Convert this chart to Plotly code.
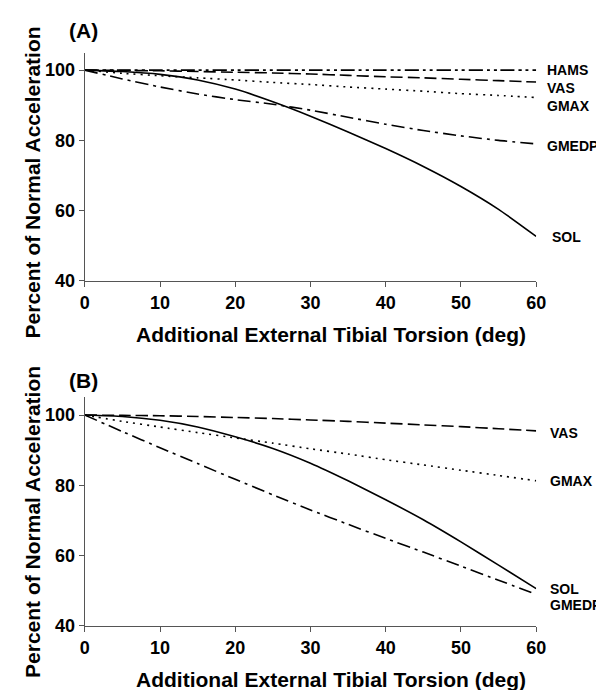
import plotly.graph_objects as go

# ---------------- data ----------------
torsion = [0, 5, 10, 15, 20, 25, 30, 35, 40, 45, 50, 55, 60]

# Panel (A)
a_hams = [100, 100, 100, 100, 100, 100, 100, 100, 100, 100, 100, 100, 100]
a_vas = [100, 99.9, 99.8, 99.6, 99.4, 99.2, 98.9, 98.5, 98.1, 97.8, 97.4, 97.0, 96.6]
a_gmax = [100, 99.1, 98.4, 97.8, 97.2, 96.5, 95.9, 95.2, 94.6, 94.0, 93.3, 92.8, 92.2]
a_gmedp = [100, 97.5, 95.2, 93.2, 91.6, 90.3, 88.6, 86.6, 84.6, 82.8, 81.3, 80.0, 79.0]
a_sol = [100, 99.6, 98.8, 97.2, 94.6, 91.0, 86.9, 82.4, 77.7, 72.6, 66.9, 60.4, 52.7]

# Panel (B)
b_vas = [100, 99.9, 99.8, 99.6, 99.3, 99.0, 98.6, 98.2, 97.7, 97.2, 96.7, 96.1, 95.5]
b_gmax = [100, 98.2, 96.6, 95.0, 93.5, 92.0, 90.4, 88.9, 87.3, 85.8, 84.3, 82.8, 81.3]
b_gmedp = [100, 95.3, 90.7, 86.2, 81.7, 77.3, 73.0, 68.9, 64.9, 61.0, 57.0, 53.0, 49.0]
b_sol = [100, 99.6, 98.5, 96.6, 93.8, 90.5, 86.3, 81.3, 75.9, 70.2, 63.9, 57.3, 50.6]

x_ticks = [0, 10, 20, 30, 40, 50, 60]
y_ticks = [40, 60, 80, 100]
x_title = "Additional External Tibial Torsion (deg)"
y_title = "Percent of Normal Acceleration"

panel_a = [("HAMS", a_hams), ("VAS", a_vas), ("GMAX", a_gmax), ("GMEDP", a_gmedp), ("SOL", a_sol)]
panel_b = [("VAS", b_vas), ("GMAX", b_gmax), ("SOL", b_sol), ("GMEDP", b_gmedp)]

# ---------------- styles ----------------
dash_style = {
    "HAMS": "14px,4px,3px,4px,3px,4px",
    "VAS": "12px,5px",
    "GMAX": "2px,5px",
    "GMEDP": "13px,5px,3px,5px",
    "SOL": "solid",
}
# label offsets (px) relative to series end value: (xshift, yshift)
label_shift_a = {"HAMS": (9, 0), "VAS": (9, -6), "GMAX": (9, -8), "GMEDP": (9, -2), "SOL": (14, -1)}
label_shift_b = {"VAS": (12, -2), "GMAX": (12, 0), "SOL": (12, 0), "GMEDP": (12, -11)}

FONT = "Arial, Liberation Sans, sans-serif"
W, H = 604, 690

fig = go.Figure()

for name, vals in panel_a:
    fig.add_trace(go.Scatter(x=torsion, y=vals, mode="lines", name=name,
                             line=dict(color="black", width=1.6, dash=dash_style[name], shape="spline", smoothing=0.5),
                             xaxis="x", yaxis="y", showlegend=False))
for name, vals in panel_b:
    fig.add_trace(go.Scatter(x=torsion, y=vals, mode="lines", name=name,
                             line=dict(color="black", width=1.6, dash=dash_style[name], shape="spline", smoothing=0.5),
                             xaxis="x2", yaxis="y2", showlegend=False))

axis_common = dict(showline=True, linecolor="#555555", linewidth=1.2, ticks="outside", ticklen=5,
                   tickcolor="#555555", tickwidth=1.2, showgrid=False, zeroline=False,
                   tickfont=dict(family=FONT, size=18, color="black", weight="bold"))

xdom = [73.6 / W, 536.5 / W]
ya_dom = [1 - 277 / H, 1 - 45.2 / H]
yb_dom = [1 - 627 / H, 1 - 395.2 / H]

fig.update_layout(
    width=W, height=H, margin=dict(l=0, r=0, t=0, b=0),
    paper_bgcolor="white", plot_bgcolor="white",
    xaxis=dict(domain=xdom, range=[0, 60], tickvals=x_ticks, anchor="y", **axis_common),
    yaxis=dict(domain=ya_dom, range=[40, 105], tickvals=y_ticks, anchor="x", **axis_common),
    xaxis2=dict(domain=xdom, range=[0, 60], tickvals=x_ticks, anchor="y2", **axis_common),
    yaxis2=dict(domain=yb_dom, range=[40, 105], tickvals=y_ticks, anchor="x2", **axis_common),
)

lab_font = dict(family=FONT, size=14, color="black", weight="bold")
ann = []
for name, vals in panel_a:
    dx, dy = label_shift_a[name]
    ann.append(dict(x=torsion[-1], y=vals[-1], xref="x", yref="y", text=name, showarrow=False,
                    xanchor="left", yanchor="middle", xshift=dx, yshift=dy, font=lab_font))
for name, vals in panel_b:
    dx, dy = label_shift_b[name]
    ann.append(dict(x=torsion[-1], y=vals[-1], xref="x2", yref="y2", text=name, showarrow=False,
                    xanchor="left", yanchor="middle", xshift=dx, yshift=dy, font=lab_font))

big = dict(family=FONT, size=21, color="black", weight="bold")
for cy_title, cy_x, cy_tag, tag in [(177.5, 331.7, 23, "(A)"), (522, 681.7, 378, "(B)")]:
    ann.append(dict(x=20 / W, y=1 - cy_title / H, xref="paper", yref="paper", text=y_title,
                    textangle=-90, showarrow=False, xanchor="center", yanchor="middle", font=big))
    ann.append(dict(x=325.6 / W, y=1 - cy_x / H, xref="paper", yref="paper", text=x_title,
                    showarrow=False, xanchor="center", yanchor="middle", font=big))
    ann.append(dict(x=72 / W, y=1 - cy_tag / H, xref="paper", yref="paper", text=tag,
                    showarrow=False, xanchor="center", yanchor="middle", font=big))

fig.update_layout(annotations=ann)
fig.write_html("out.html")
